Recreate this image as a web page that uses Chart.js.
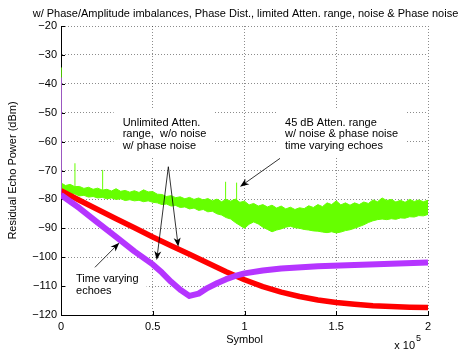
<!DOCTYPE html>
<html>
<head>
<meta charset="utf-8">
<script src="https://cdn.jsdelivr.net/npm/chart.js@4.4.1/dist/chart.umd.min.js"></script>
<style>
html, body { margin: 0; padding: 0; background: #fff; }
</style>
</head>
<body>
<canvas id="graficoEco" width="472" height="355"></canvas>
<script>
const FONTE = "'Liberation Sans', Arial, Helvetica, sans-serif";

// ticks
const xTicks = [0, 50000, 100000, 150000, 200000];
const xTickLabels = ["0", "0.5", "1", "1.5", "2"];
const yTicks = [-120, -110, -100, -90, -80, -70, -60, -50, -40, -30, -20];
const yTickLabels = ["\u2212120", "\u2212110", "\u2212100", "\u221290", "\u221280", "\u221270",
  "\u221260", "\u221250", "\u221240", "\u221230", "\u221220"];

// red: unlimited atten. range, w/o noise
const redX = [0, 10000, 20000, 30000, 40000, 50000, 60000, 70000, 80000, 90000, 100000,
  110000, 120000, 130000, 140000, 150000, 160000, 170000, 180000, 190000, 200000];
const redY = [-77, -80.3, -83.5, -86.7, -89.8, -93, -96, -99, -102, -105, -107.8,
  -110.2, -112.1, -113.6, -114.8, -115.7, -116.3, -116.8, -117.1, -117.3, -117.4];

// purple: time varying echoes
const purpleX = [0, 10000, 20000, 30000, 40000, 50000, 55000, 60000, 65000, 70000, 75000,
  80000, 85000, 90000, 95000, 100000, 110000, 120000, 140000, 160000, 180000, 200000];
const purpleY = [-78.5, -83, -88, -93, -98, -102.5, -105.3, -108.5, -111.3, -113.4, -112.6,
  -110.6, -109, -107.6, -106.5, -105.6, -104.6, -103.9, -103.1, -102.7, -102.3, -101.8];

// green: 45 dB atten. range, noisy band (upper / lower edge)
const greenX = [0, 2500, 5000, 7500, 10000, 12500, 15000, 17500, 20000, 22500,
  25000, 27500, 30000, 32500, 35000, 37500, 40000, 42500, 45000, 47500,
  50000, 52500, 55000, 57500, 60000, 62500, 65000, 67500, 70000, 72500,
  75000, 77500, 80000, 82500, 85000, 87500, 90000, 92500, 95000, 97500,
  100000, 102500, 105000, 107500, 110000, 112500, 115000, 117500, 120000, 122500,
  125000, 127500, 130000, 132500, 135000, 137500, 140000, 142500, 145000, 147500,
  150000, 152500, 155000, 157500, 160000, 162500, 165000, 167500, 170000, 172500,
  175000, 177500, 180000, 182500, 185000, 187500, 190000, 192500, 195000, 197500, 200000];
const greenUpper = [-74.3, -75.2, -74.8, -75.6, -75.5, -76.2, -75.8, -76.5, -76.1, -76.8,
  -76.5, -77.1, -76.3, -77.2, -76.9, -77.5, -77, -77.6, -76.7, -77.4,
  -77.3, -78.2, -78.3, -79, -78.7, -79.4, -79.1, -79.8, -79.3, -80,
  -79.5, -80.2, -79.7, -80.5, -79.9, -80.8, -80, -80.6, -79.9, -81,
  -80.6, -81.9, -81.4, -82.3, -81.8, -82.6, -82, -83, -82.3, -83.3,
  -82.7, -83.5, -82.9, -83.2, -82.2, -82.8, -81.8, -82.5, -81.2, -81.8,
  -80.5, -81.9, -81.2, -82, -81.2, -81.8, -80.9, -81.4, -80.2, -80.8,
  -79.5, -80.4, -80, -80.9, -80.3, -81, -80, -80.7, -80.2, -80.8, -80.3];
const greenLower = [-77.6, -77.9, -78.3, -78.1, -78.8, -78.6, -79.2, -79, -79.5, -79.3,
  -79.8, -79.5, -80, -79.8, -80.4, -80.1, -80.5, -80.3, -80.8, -80.5,
  -81, -81.2, -81.8, -81.6, -82.3, -82.1, -82.8, -82.6, -83.3, -83,
  -83.8, -83.5, -84.3, -84.1, -85, -85.4, -86.3, -86.8, -88, -89,
  -90, -88.6, -87.8, -88.5, -89.6, -90.4, -91.2, -90.6, -90.2, -89.6,
  -89.3, -89.8, -90, -90.4, -90.6, -90.9, -91, -91.3, -91.5, -91.2,
  -91.6, -91.3, -90.8, -90.5, -90, -89.4, -88.8, -88, -87.4, -87,
  -86.8, -87, -86.7, -86.9, -86.4, -86.5, -86, -86.1, -85.6, -85.7, -85.2];

// spikes on the green curve
const spikeX = [7600, 22700, 89700, 95700];
const spikeTop = [-67.5, -69.8, -73.9, -74.2];
const spikeBase = [-77, -78, -81, -81];

// start transients at symbol 0
const startGreen = [-34.5, -75];
const startPurple = [-38, -78.5];

const pontos = (xs, ys) => xs.map((x, i) => ({ x: x, y: ys[i] }));

// closed outline of the green band: upper edge left->right, lower edge right->left
const greenBand = pontos(greenX, greenUpper).concat(pontos(greenX, greenLower).reverse());

const spikeData = [];
spikeX.forEach((x, i) => {
  spikeData.push({ x: x, y: spikeBase[i] }, { x: x, y: spikeTop[i] }, { x: x, y: null });
});

const textos = [
  { linhas: ["Unlimited Atten.", "range,  w/o noise", "w/ phase noise"], x: 33600, y: -54.6 },
  { linhas: ["45 dB Atten. range", "w/ noise & phase noise", "time varying echoes"], x: 122100, y: -54.6 },
  { linhas: ["Time varying", "echoes"], x: 8200, y: -108.6 },
];

const flechas = [
  { de: [58500, -68.7], para: [52150, -101] },
  { de: [58500, -68.7], para: [63900, -96.4] },
  { de: [119350, -65.8], para: [97550, -75.6] },
  { de: [18500, -103.5], para: [31800, -95] },
];

function desenharFlecha(ctx, x1, y1, x2, y2) {
  const ang = Math.atan2(y2 - y1, x2 - x1);
  const comp = 9, larg = 3.5;
  ctx.beginPath();
  ctx.moveTo(x1, y1);
  ctx.lineTo(x2 - Math.cos(ang) * 5, y2 - Math.sin(ang) * 5);
  ctx.stroke();
  ctx.save();
  ctx.translate(x2, y2);
  ctx.rotate(ang);
  ctx.beginPath();
  ctx.moveTo(0, 0);
  ctx.lineTo(-comp, -larg);
  ctx.lineTo(-comp + 2.5, 0);
  ctx.lineTo(-comp, larg);
  ctx.closePath();
  ctx.fill();
  ctx.restore();
}

const notas = {
  id: "notas",
  beforeDatasetsDraw(chart) {
    const { ctx, chartArea: a, scales: { x, y } } = chart;
    ctx.save();
    ctx.strokeStyle = "#000";
    ctx.lineWidth = 1;
    ctx.beginPath();
    yTicks.forEach((v) => {
      const py = Math.round(y.getPixelForValue(v)) + 0.5;
      ctx.moveTo(a.left, py);
      ctx.lineTo(a.left + 4, py);
    });
    xTicks.forEach((v) => {
      const px = Math.round(x.getPixelForValue(v)) + 0.5;
      ctx.moveTo(px, a.bottom);
      ctx.lineTo(px, a.bottom - 4);
    });
    ctx.stroke();
    ctx.restore();
  },
  afterDatasetsDraw(chart) {
    const { ctx, scales: { x, y } } = chart;
    ctx.save();
    ctx.font = "11px " + FONTE;
    ctx.textBaseline = "alphabetic";
    ctx.textAlign = "left";
    textos.forEach((t) => {
      const px = x.getPixelForValue(t.x);
      const py = y.getPixelForValue(t.y);
      const w = Math.max(...t.linhas.map((l) => ctx.measureText(l).width));
      ctx.fillStyle = "#fff";
      ctx.fillRect(px - 9, py - 17, w + 17, (t.linhas.length - 1) * 11.5 + 24);
      ctx.fillStyle = "#000";
      t.linhas.forEach((l, i) => ctx.fillText(l, px, py + i * 11.5));
    });
    ctx.strokeStyle = "#000";
    ctx.fillStyle = "#000";
    ctx.lineWidth = 0.8;
    flechas.forEach((f) => {
      desenharFlecha(ctx,
        x.getPixelForValue(f.de[0]), y.getPixelForValue(f.de[1]),
        x.getPixelForValue(f.para[0]), y.getPixelForValue(f.para[1]));
    });
    ctx.restore();
  },
  afterDraw(chart) {
    const { ctx, chartArea: a } = chart;
    const cx = (a.left + a.right) / 2;
    ctx.save();
    ctx.fillStyle = "#000";
    ctx.font = "11px " + FONTE;
    ctx.textAlign = "center";
    ctx.textBaseline = "alphabetic";
    ctx.fillText("w/ Phase/Amplitude imbalances, Phase Dist., limited Atten. range, noise & Phase noise", cx + 1, 17);
    ctx.fillText("Symbol", cx, 343);
    ctx.textAlign = "right";
    ctx.fillText("x 10", 415, 348.5);
    ctx.textAlign = "left";
    ctx.font = "9px " + FONTE;
    ctx.fillText("5", 416, 341);
    ctx.font = "11px " + FONTE;
    ctx.translate(13, (a.top + a.bottom) / 2);
    ctx.rotate(-Math.PI / 2);
    ctx.textAlign = "center";
    ctx.textBaseline = "middle";
    ctx.fillText("Residual Echo Power (dBm)", 0, 0);
    ctx.restore();
  },
};

const corVerde = "#66ff00";
const corRoxo = "#b535ff";
const corGrade = "rgba(0,0,0,0.45)";

const ctx = document.getElementById("graficoEco").getContext("2d");

const grafico = new Chart(ctx, {
  type: "line",
  data: {
    datasets: [
      { label: "Time varying echoes", data: pontos(purpleX, purpleY), borderColor: corRoxo,
        borderWidth: 6, order: 1, fill: false },
      { label: "Unlimited Atten. range", data: pontos(redX, redY), borderColor: "#ff0000",
        borderWidth: 5.5, order: 2, fill: false },
      { label: "45 dB Atten. range", data: greenBand, borderColor: corVerde,
        backgroundColor: corVerde, borderWidth: 1, order: 4, fill: "shape" },
      { label: "spikes", data: spikeData, borderColor: corVerde, borderWidth: 1,
        order: 3, fill: false, spanGaps: false },
      { label: "start purple", data: [{ x: 0, y: startPurple[0] }, { x: 0, y: startPurple[1] }],
        borderColor: corRoxo, borderWidth: 1.5, order: 0, fill: false },
      { label: "start green", data: [{ x: 0, y: startGreen[0] }, { x: 0, y: startGreen[1] }],
        borderColor: corVerde, borderWidth: 1.5, order: 5, fill: false },
    ],
  },
  options: {
    responsive: false,
    animation: false,
    devicePixelRatio: 1,
    layout: { padding: { left: 0, right: 44, top: 26, bottom: 0 } },
    elements: { point: { radius: 0 }, line: { tension: 0, borderJoinStyle: "round", borderCapStyle: "butt" } },
    plugins: {
      legend: { display: false },
      tooltip: { enabled: false },
      title: { display: false },
    },
    scales: {
      x: {
        type: "linear",
        min: 0,
        max: 200000,
        afterBuildTicks: (s) => { s.ticks = xTicks.map((v) => ({ value: v })); },
        afterFit: (s) => { s.height = 40; },
        ticks: {
          callback: (v, i) => xTickLabels[i],
          color: "#000",
          font: { family: FONTE, size: 11 },
          padding: 5,
          maxRotation: 0,
        },
        grid: { color: corGrade, drawTicks: false },
        border: { display: true, color: "#000", width: 1, dash: [1, 2] },
      },
      y: {
        type: "linear",
        min: -120,
        max: -20,
        afterBuildTicks: (s) => { s.ticks = yTicks.map((v) => ({ value: v })); },
        afterFit: (s) => { s.width = 61; },
        ticks: {
          callback: (v, i) => yTickLabels[i],
          color: "#000",
          font: { family: FONTE, size: 11 },
          padding: 4,
        },
        grid: { color: corGrade, drawTicks: false },
        border: { display: true, color: "#000", width: 1, dash: [1, 2] },
      },
    },
  },
  plugins: [notas],
});
</script>
</body>
</html>
